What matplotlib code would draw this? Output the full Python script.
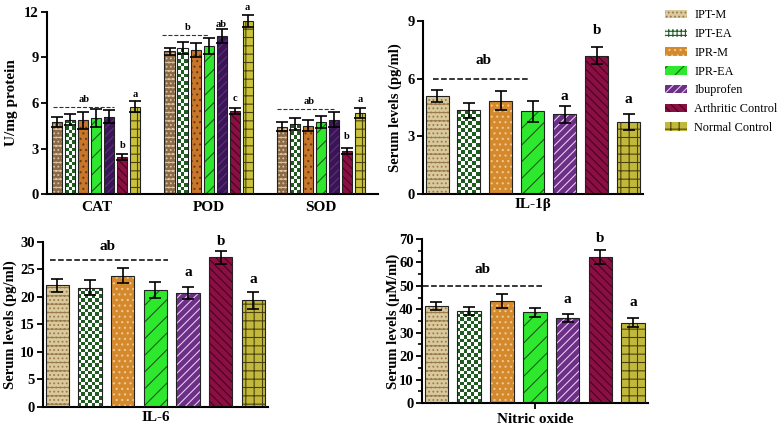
import matplotlib
matplotlib.use("Agg")
import matplotlib.pyplot as plt
import numpy as np
from matplotlib.patches import Patch
from matplotlib.colors import ListedColormap

plt.rcParams['font.family'] = ['Liberation Serif', 'DejaVu Serif']
plt.rcParams['hatch.linewidth'] = 0.8

groups = ["IPT-M", "IPT-EA", "IPR-M", "IPR-EA", "Ibuprofen", "Arthritic Control", "Normal Control"]

# Panel 1: antioxidant enzymes (U/mg protein)
enzymes = ["CAT", "POD", "SOD"]
cat_mean = [4.75, 4.9, 4.85, 5.0, 5.1, 2.45, 5.75]
cat_err = [0.3, 0.35, 0.55, 0.6, 0.45, 0.2, 0.35]
pod_mean = [9.4, 9.6, 9.5, 9.75, 10.4, 5.5, 11.4]
pod_err = [0.25, 0.4, 0.45, 0.55, 0.45, 0.2, 0.4]
sod_mean = [4.45, 4.6, 4.5, 4.75, 4.9, 2.85, 5.35]
sod_err = [0.3, 0.4, 0.35, 0.4, 0.5, 0.2, 0.35]

# Panel 2: IL-1beta
il1b_mean = [5.1, 4.35, 4.85, 4.3, 4.15, 7.2, 3.75]
il1b_err = [0.3, 0.4, 0.5, 0.55, 0.45, 0.45, 0.4]

# Panel 3: IL-6
il6_mean = [22.1, 21.7, 23.9, 21.3, 20.7, 27.2, 19.4]
il6_err = [1.2, 1.4, 1.4, 1.5, 1.1, 1.2, 1.5]

# Panel 4: Nitric oxide
no_mean = [41.3, 39.3, 43.5, 38.7, 36.4, 62.5, 34.3]
no_err = [1.8, 1.8, 3.0, 2.0, 1.7, 3.0, 2.0]

faces = ['#d9c99c', '#ffffff', '#d4892c', '#2ee82e', '#6b2f86', '#8a1043', '#c2b93c']
faces_p1 = ['#8c6a48', '#ffffff', '#c8772a', '#2ee82e', '#3a1456', '#8a1043', '#c9c23a']
hatchcols = ['#9a7c4c', '#1f5c1f', '#f2c890', '#1c5c1c', '#e6c8f0', '#4a0020', '#4a4210']
hatchcols_p1 = ['#d8c4a0', '#1f5c1f', '#6a3a10', '#1c5c1c', '#5a3476', '#4a0020', '#4a4210']
hatches = ['....--', 'xx', '...', '//', '////', '\\\\\\\\', '++']
checker_cmap = ListedColormap(['#1f5c1f', '#ffffff'])

BOLD = dict(fontweight='bold')
FIG_W, FIG_H = 778, 425


def draw_bar(ax, x, h, err, i, width, face=None, hcol=None):
    fc = face if face is not None else faces[i]
    hc = hcol if hcol is not None else hatchcols[i]
    if i == 1:
        base = ax.bar(x, h, width, color='white', linewidth=0, zorder=2)[0]
        p0 = ax.transData.transform((x - width / 2, 0))
        p1 = ax.transData.transform((x + width / 2, h))
        ncols = max(2, int(round((p1[0] - p0[0]) / 3.6)))
        nrows = max(2, int(round((p1[1] - p0[1]) / 3.6)))
        arr = np.add.outer(np.arange(nrows), np.arange(ncols)) % 2
        im = ax.imshow(arr, cmap=checker_cmap, extent=[x - width / 2, x + width / 2, 0, h],
                       aspect='auto', interpolation='nearest', zorder=2.5, origin='lower')
        im.set_clip_path(base)
    else:
        ax.bar(x, h, width, color=fc, edgecolor=hc, hatch=hatches[i], linewidth=0, zorder=2)
    ax.bar(x, h, width, facecolor='none', edgecolor='#222222', linewidth=0.8, zorder=3)
    ax.errorbar(x, h, yerr=err, fmt='none', ecolor='black', elinewidth=1.2, capsize=4, capthick=1.2, zorder=4)


def style_axis(ax):
    for s in ['top', 'right']:
        ax.spines[s].set_visible(False)
    for s in ['left', 'bottom']:
        ax.spines[s].set_linewidth(1.5)
    ax.tick_params(axis='y', direction='out', width=1.3, length=4, labelsize=10.5, pad=2)
    for lab in ax.get_yticklabels():
        lab.set_fontweight('bold')


def place_ylabel(ax, rect, px):
    # px: right edge of the (rotated) label in figure pixels
    ax.yaxis.set_label_coords((px / FIG_W - rect[0]) / rect[2], 0.5)


fig = plt.figure(figsize=(7.78, 4.25), dpi=100)

# ---------- Panel 1 ----------
rect1 = [0.0604, 0.5435, 0.4255, 0.4283]
ax1 = fig.add_axes(rect1)
ax1.set_xlim(-0.44, 2.51)
ax1.set_ylim(0, 12)
step = 0.116
w1 = 0.09
offs = (np.arange(7) - 3) * step
for g, (m, e) in enumerate([(cat_mean, cat_err), (pod_mean, pod_err), (sod_mean, sod_err)]):
    for i in range(7):
        draw_bar(ax1, g + offs[i], m[i], e[i], i, w1, faces_p1[i], hatchcols_p1[i])
ax1.set_xlim(-0.44, 2.51)
ax1.set_ylim(0, 12)
ax1.set_yticks([0, 3, 6, 9, 12])
ax1.set_xticks([0, 1, 2])
ax1.set_xticklabels(enzymes, fontsize=11, fontweight='bold')
ax1.tick_params(axis='x', length=0, pad=5)
style_axis(ax1)
ax1.set_ylabel("U/mg protein", fontsize=11, fontweight='bold')
place_ylabel(ax1, rect1, 18)
fs1 = 7.5
# CAT
ax1.plot([offs[0] - 0.04, offs[4] + 0.04], [5.73, 5.73], ls='--', color='#333333', lw=0.8)
ax1.text(0 - 0.11, 6.2, 'ab', ha='center', va='center', fontsize=fs1, **BOLD)
ax1.text(offs[5], 3.2, 'b', ha='center', va='center', fontsize=fs1, **BOLD)
ax1.text(offs[6], 6.57, 'a', ha='center', va='center', fontsize=fs1, **BOLD)
# POD
ax1.plot([1 + offs[0] - 0.07, 1 + offs[3] + 0.0], [10.49, 10.49], ls='--', color='#333333', lw=0.8)
ax1.text(1 + offs[1] + 0.05, 11.0, 'b', ha='center', va='center', fontsize=fs1, **BOLD)
ax1.text(1 + offs[4], 11.2, 'ab', ha='center', va='center', fontsize=fs1, **BOLD)
ax1.text(1 + offs[5], 6.3, 'c', ha='center', va='center', fontsize=fs1, **BOLD)
ax1.text(1 + offs[6], 12.3, 'a', ha='center', va='center', fontsize=fs1, clip_on=False, **BOLD)
# SOD
ax1.plot([2 + offs[0] - 0.04, 2 + offs[4]], [5.63, 5.63], ls='--', color='#333333', lw=0.8)
ax1.text(2 - 0.1, 6.1, 'ab', ha='center', va='center', fontsize=fs1, **BOLD)
ax1.text(2 + offs[5], 3.8, 'b', ha='center', va='center', fontsize=fs1, **BOLD)
ax1.text(2 + offs[6], 6.2, 'a', ha='center', va='center', fontsize=fs1, **BOLD)


def single_panel(rect, means, errs, ylim, yticks, xlabel, ylabel, label_px, ann, dash, tick_len=0, minor=None):
    ax = fig.add_axes(rect)
    ax.set_xlim(-0.44, 6.45)
    ax.set_ylim(*ylim)
    x = np.arange(7)
    for i in range(7):
        draw_bar(ax, x[i], means[i], errs[i], i, 0.72)
    ax.set_xlim(-0.44, 6.45)
    ax.set_ylim(*ylim)
    ax.set_yticks(yticks)
    if minor is not None:
        ax.set_yticks(minor, minor=True)
        ax.tick_params(axis='y', which='minor', length=3, width=1.2)
    ax.set_xticks([3])
    ax.set_xticklabels([xlabel], fontsize=11, fontweight='bold')
    ax.tick_params(axis='x', length=tick_len, width=1.3, pad=3)
    style_axis(ax)
    ax.set_ylabel(ylabel, fontsize=10.5, fontweight='bold')
    place_ylabel(ax, rect, label_px)
    ax.plot(dash[0], [dash[1], dash[1]], ls='--', color='black', lw=1.1)
    for (xx, yy, t) in ann:
        ax.text(xx, yy, t, ha='center', va='center', fontsize=11, clip_on=False, **BOLD)
    return ax


# ---------- Panel 2: IL-1beta ----------
single_panel([0.5437, 0.5435, 0.2828, 0.4071], il1b_mean, il1b_err, (0, 9), [0, 3, 6, 9],
             "IL-1β", "Serum levels (pg/ml)", 402,
             [(1.44, 6.92, 'ab'), (4, 5.07, 'a'), (5, 8.53, 'b'), (6, 4.9, 'a')],
             ([-0.12, 2.9], 6.0))

# ---------- Panel 3: IL-6 ----------
single_panel([0.0553, 0.0424, 0.2892, 0.3882], il6_mean, il6_err, (0, 30), [0, 5, 10, 15, 20, 25, 30],
             "IL-6", "Serum levels (pg/ml)", 17,
             [(1.54, 29.1, 'ab'), (4, 24.5, 'a'), (5, 30.0, 'b'), (6, 23.1, 'a')],
             ([-0.22, 3.4], 26.7))

# ---------- Panel 4: Nitric oxide ----------
single_panel([0.5424, 0.0518, 0.2905, 0.3858], no_mean, no_err, (0, 70), [0, 10, 20, 30, 40, 50, 60, 70],
             "Nitric oxide", "Serum levels (μM/ml)", 400,
             [(1.4, 56.9, 'ab'), (4, 44.1, 'a'), (5, 70.4, 'b'), (6, 43.0, 'a')],
             ([-0.42, 3.25], 50.0), tick_len=4, minor=[5, 15, 25, 35, 45, 55, 65])

# ---------- Legend ----------
leg_hatches = list(hatches)
leg_hatches[0] = '....'
leg_hatches[1] = '++++'
handles = [Patch(facecolor=faces[i], edgecolor=hatchcols[i], hatch=leg_hatches[i], linewidth=0.0) for i in range(7)]
leg = fig.legend(handles, groups, loc='upper left', bbox_to_anchor=(0.845, 0.995), frameon=False,
                 fontsize=8.8, handlelength=1.8, handleheight=0.7, labelspacing=0.55, handletextpad=0.6,
                 borderaxespad=0.2)

fig.savefig("out.png", dpi=100)
